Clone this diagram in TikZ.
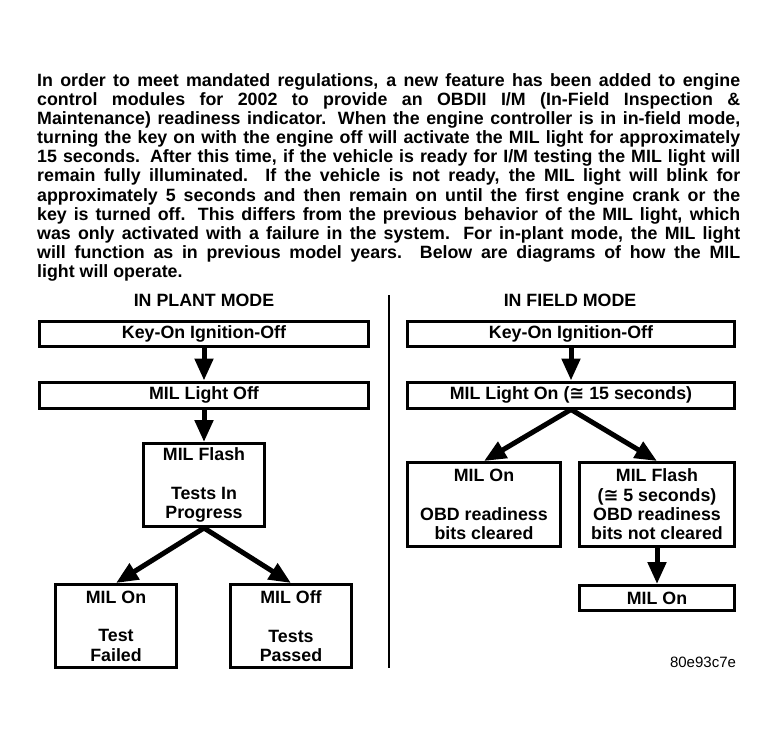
\documentclass[tikz,border=0pt]{standalone}
\usepackage{fontspec}
\setmainfont{Liberation Sans}
\newfontfamily\symfont{DejaVu Sans}
\usetikzlibrary{arrows.meta}
\newcommand{\jline}[1]{\hbox to 703pt{#1}}
\begin{document}
\begin{tikzpicture}[x=1pt,y=-1pt,
  font=\bfseries\fontsize{17.8}{19.3}\selectfont,
  flowbox/.style={draw, line width=3pt, inner sep=0pt, align=center},
  bigarrow/.style={line width=5pt, -{Triangle[length=22pt,width=18pt]}}]
\useasboundingbox (0,0) rectangle (775,746);
% paragraph
\node[anchor=base west, inner sep=0pt] (para) at (37,86.5) {\vtop{\hsize=703pt\fontsize{17.8}{19.1}\selectfont
\jline{In order to meet mandated regulations, a new feature has been added to engine}
\jline{control modules for 2002 to provide an OBDII I/M (In-Field Inspection \&}
\jline{Maintenance) readiness indicator.  When the engine controller is in in-field mode,}
\jline{turning the key on with the engine off will activate the MIL light for approximately}
\jline{15 seconds.  After this time, if the vehicle is ready for I/M testing the MIL light will}
\jline{remain fully illuminated.  If the vehicle is not ready, the MIL light will blink for}
\jline{approximately 5 seconds and then remain on until the first engine crank or the}
\jline{key is turned off.  This differs from the previous behavior of the MIL light, which}
\jline{was only activated with a failure in the system.  For in-plant mode, the MIL light}
\jline{will function as in previous model years.  Below are diagrams of how the MIL}
\hbox{light will operate.}}};
% headings
\node (hl) at (204,300) {IN PLANT MODE};
\node (hr) at (570,300) {IN FIELD MODE};
% divider
\coordinate (d1) at (389,295);
\coordinate (d2) at (389,668);
\draw[line width=2.5pt] (d1) -- (d2);
% left column
\node[flowbox, minimum width=329pt, minimum height=25pt] (lk) at (204,334) {Key-On Ignition-Off};
\node[flowbox, minimum width=329pt, minimum height=26pt] (lm) at (204,395) {MIL Light Off};
\node[flowbox, minimum width=121pt, minimum height=83pt] (lf) at (204,485) {MIL Flash\\[19.3pt]Tests In\\Progress};
\node[flowbox, minimum width=121pt, minimum height=83pt] (lon) at (116,626) {MIL On\\[19.3pt]Test\\Failed};
\node[flowbox, minimum width=121pt, minimum height=83pt] (loff) at (291,626) {MIL Off\\[19.3pt]Tests\\Passed};
\draw[bigarrow] (lk.south) -- (lm.north);
\draw[bigarrow] (lm.south) -- (lf.north);
\draw[bigarrow] (lf.south) -- (lon.north);
\draw[bigarrow] (lf.south) -- (loff.north);
% right column
\node[flowbox, minimum width=327pt, minimum height=25pt] (rk) at (571,334) {Key-On Ignition-Off};
\node[flowbox, minimum width=327pt, minimum height=26pt] (rm) at (571,395) {MIL Light On ({\symfont ≅} 15 seconds)};
\node[flowbox, minimum width=153pt, minimum height=84pt] (ron) at (484,504.5) {MIL On\\[19.3pt]OBD readiness\\bits cleared};
\node[flowbox, minimum width=155pt, minimum height=84pt] (rfl) at (657,504.5) {MIL Flash\\({\symfont ≅} 5 seconds)\\OBD readiness\\bits not cleared};
\node[flowbox, minimum width=155pt, minimum height=25pt] (rfin) at (657,598) {MIL On};
\draw[bigarrow] (rk.south) -- (rm.north);
\draw[bigarrow] (rm.south) -- (ron.north);
\draw[bigarrow] (rm.south) -- (rfl.north);
\draw[bigarrow] (rfl.south) -- (rfin.north);
% code
\node[font=\fontsize{15}{18}\selectfont] (code) at (703,662) {80e93c7e};
\end{tikzpicture}
\end{document}
